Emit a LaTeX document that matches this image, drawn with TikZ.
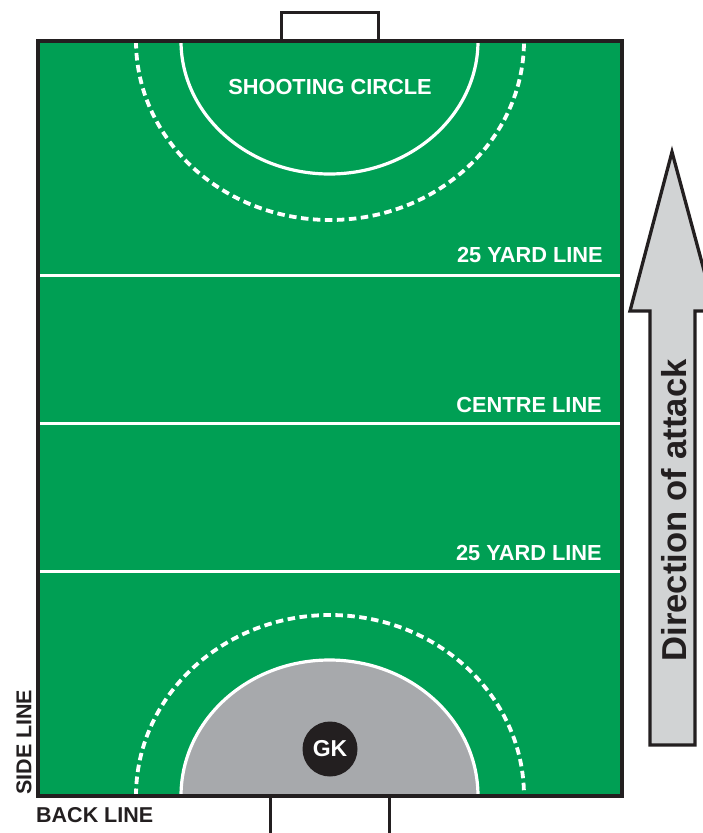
\documentclass[tikz,border=0pt]{standalone}
\usepackage{fontspec}
\setmainfont{Liberation Sans}
\definecolor{pitchgreen}{RGB}{0,159,84}
\definecolor{circlegrey}{RGB}{167,169,172}
\definecolor{arrowgrey}{RGB}{209,211,212}
\definecolor{inkblack}{RGB}{35,31,32}

\begin{document}
\begin{tikzpicture}[x=1pt, y=-1pt]
    \tikzstyle{pitchline} = [draw=white, line width=3.2pt]
    \tikzstyle{dashline} = [pitchline, line width=3.8pt, dash pattern=on 7.5pt off 4.5pt]
    \tikzstyle{edgeline} = [draw=inkblack, line width=3.3pt]
    \tikzstyle{goalline} = [draw=inkblack, line width=3pt]
    \tikzstyle{whitelabel} = [text=white, font=\bfseries\fontsize{21.8}{22}\selectfont, inner sep=0pt]
    \tikzstyle{blacklabel} = [text=inkblack, font=\bfseries\fontsize{21.5}{22}\selectfont, inner sep=0pt]

    \clip (0,0) rectangle (703,833);

    % pitch
    \fill [pitchgreen] (38,41) rectangle (622,796);
    \fill [circlegrey] (181,796) arc [start angle=180, end angle=360, x radius=148.5, y radius=136] -- cycle;
    \draw [pitchline] (181,796) arc [start angle=180, end angle=360, x radius=148.5, y radius=136];
    \draw [pitchline] (181,41) arc [start angle=180, end angle=0, x radius=148.5, y radius=133];
    \draw [dashline] (136,796) arc [start angle=180, end angle=360, x radius=194, y radius=181];
    \draw [dashline] (136,41) arc [start angle=180, end angle=0, x radius=194, y radius=179];

    % yard lines
    \draw [pitchline] (38,275.5) -- (622,275.5);
    \draw [pitchline] (38,423.5) -- (622,423.5);
    \draw [pitchline] (38,571.5) -- (622,571.5);

    % goals
    \draw [goalline] (281,41) |- (378,12) -- (378,41);
    \draw [goalline] (270,796) -- (270,840);
    \draw [goalline] (389,796) -- (389,840);
    \draw [edgeline] (38,41) rectangle (622,796);

    \node [circle, fill=inkblack, minimum size=55pt, inner sep=0pt] (keeper) at (330,749) {};
    \node [whitelabel, font=\bfseries\fontsize{23}{23}\selectfont] at (keeper) {GK};

    \node [whitelabel] (shooting) at (330,87) {SHOOTING CIRCLE};
    \node [whitelabel, anchor=east] (upper) at (603,254.5) {25 YARD LINE};
    \node [whitelabel, anchor=east] (centre) at (602,405) {CENTRE LINE};
    \node [whitelabel, anchor=east] (lower) at (602,552.5) {25 YARD LINE};
    \node [blacklabel, anchor=west] (back) at (36,815) {BACK LINE};
    \node [blacklabel, anchor=west, rotate=90] (side) at (24,795) {SIDE LINE};

    % direction arrow
    \draw [fill=arrowgrey, draw=inkblack, line width=3.3pt, miter limit=10]
        (672,152) -- (715,311) -- (695,311) -- (695,745) -- (650,745) -- (650,311) -- (630,311) -- cycle;
    \node [blacklabel, font=\bfseries\fontsize{34.6}{35}\selectfont, anchor=west, rotate=90] (attack) at (674,661.5) {Direction of attack};
\end{tikzpicture}
\end{document}
